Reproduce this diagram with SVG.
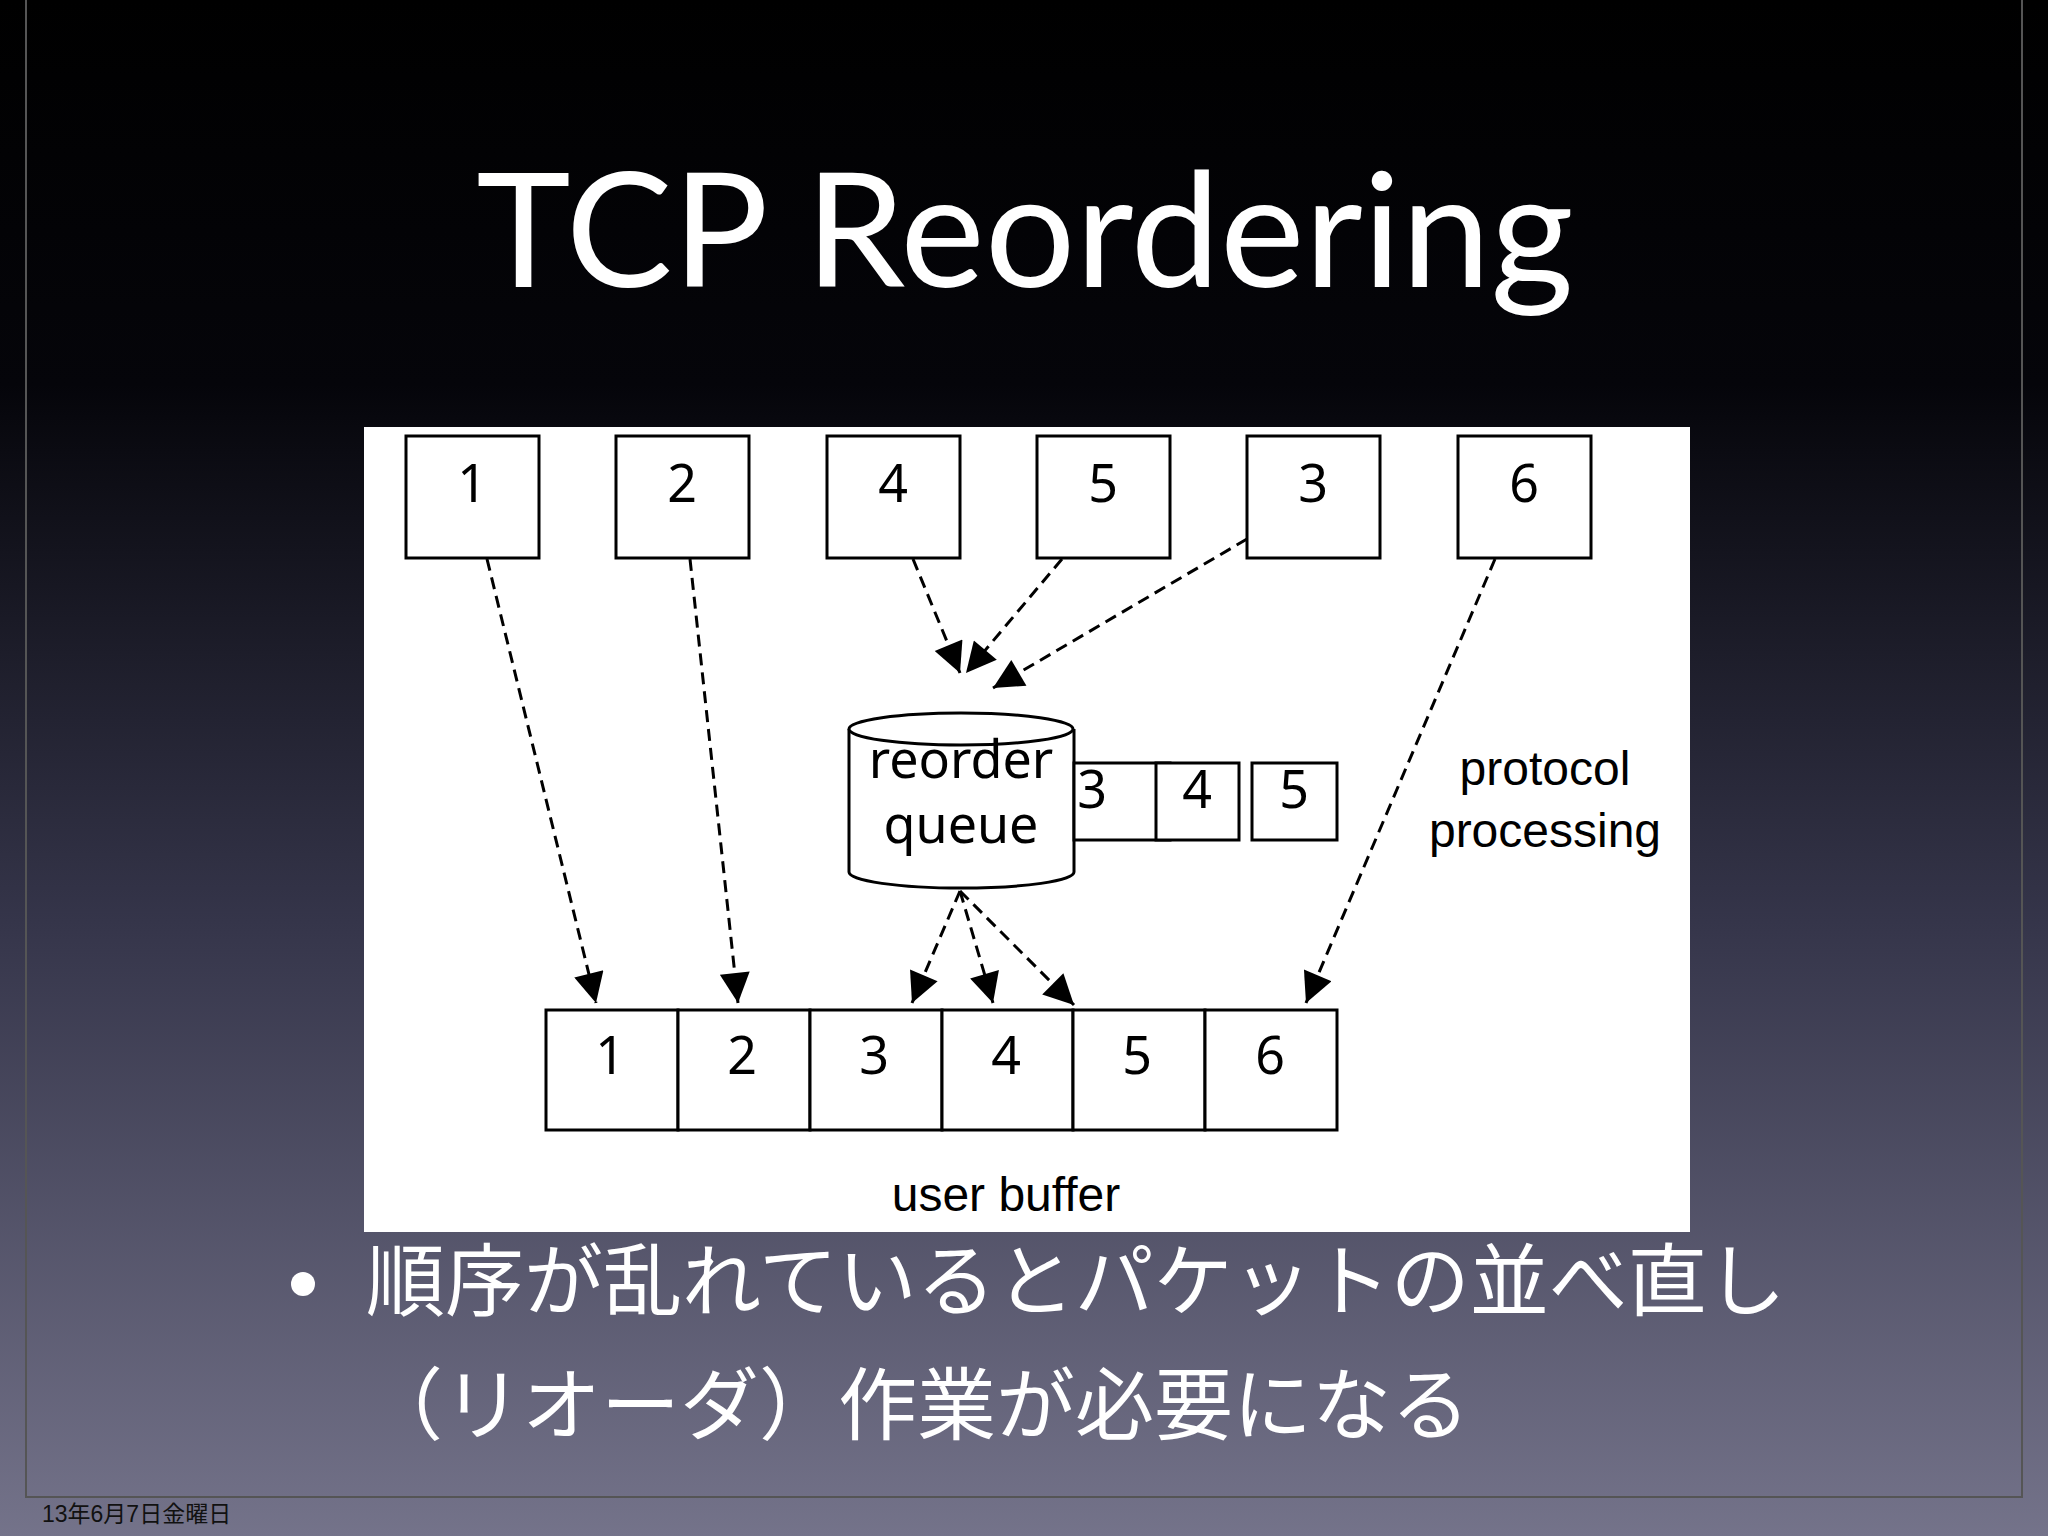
<svg xmlns="http://www.w3.org/2000/svg" width="2048" height="1536" viewBox="0 0 2048 1536">
<defs>
<linearGradient id="bg" x1="0" y1="0" x2="0" y2="1">
<stop offset="0" stop-color="#000"/><stop offset="0.25" stop-color="#05050a"/><stop offset="0.6" stop-color="#35354a"/><stop offset="1" stop-color="#74738a"/>
</linearGradient>
<marker id="a" viewBox="0 0 10 10" refX="10" refY="5" markerWidth="40" markerHeight="30" orient="auto" markerUnits="userSpaceOnUse"><path d="M0,0 L10,5 L0,10 z" fill="#000"/></marker>
</defs>
<style>
.b{fill:#fff;stroke:#000;stroke-width:3}
.n{font-family:"Noto Sans","Liberation Sans",sans-serif;font-size:52px;text-anchor:middle;fill:#000}
.l{font-family:"Liberation Sans",Arial,sans-serif;font-size:48px;text-anchor:middle;fill:#000}
.c{stroke:#000;stroke-width:3;stroke-dasharray:12,7;fill:none;marker-end:url(#a)}
.j{font-family:"Noto Sans CJK JP",sans-serif;font-size:79px;fill:#fff}
</style>
<rect width="2048" height="1536" fill="url(#bg)"/>
<rect x="26" y="-2" width="1996" height="1499" fill="none" stroke="#555" stroke-width="2"/>
<text x="1025" y="287" font-family="Lato,'Open Sans',sans-serif" font-size="160" fill="#fff" text-anchor="middle">TCP Reordering</text>
<rect x="364" y="427" width="1326" height="805" fill="#fff"/>
<g id="top1"><rect class="b" x="406" y="436" width="133" height="122"/><text class="n" x="472" y="502">1</text></g>
<g id="top2"><rect class="b" x="616" y="436" width="133" height="122"/><text class="n" x="682" y="502">2</text></g>
<g id="top4"><rect class="b" x="827" y="436" width="133" height="122"/><text class="n" x="893" y="502">4</text></g>
<g id="top5"><rect class="b" x="1037" y="436" width="133" height="122"/><text class="n" x="1103" y="502">5</text></g>
<g id="top3"><rect class="b" x="1247" y="436" width="133" height="122"/><text class="n" x="1313" y="502">3</text></g>
<g id="top6"><rect class="b" x="1458" y="436" width="133" height="122"/><text class="n" x="1524" y="502">6</text></g>
<g id="queue">
<path class="b" d="M849,729 L849,872 A112,16 0 0 0 1074,872 L1074,729"/>
<ellipse class="b" cx="961" cy="729" rx="112" ry="16"/>
<text class="n" x="961" y="778" font-size="40">reorder</text>
<text class="n" x="961" y="843" font-size="40">queue</text>
</g>
<g id="q3"><rect class="b" x="1074" y="763" width="96" height="77"/><text class="n" x="1092" y="808" font-size="44">3</text></g>
<g id="q4"><rect class="b" x="1156" y="763" width="83" height="77"/><text class="n" x="1197" y="808" font-size="44">4</text></g>
<g id="q5"><rect class="b" x="1252" y="763" width="85" height="77"/><text class="n" x="1294" y="808" font-size="44">5</text></g>
<g id="buf">
<rect class="b" x="546" y="1010" width="132" height="120"/><text class="n" x="610" y="1074">1</text>
<rect class="b" x="678" y="1010" width="132" height="120"/><text class="n" x="742" y="1074">2</text>
<rect class="b" x="810" y="1010" width="132" height="120"/><text class="n" x="874" y="1074">3</text>
<rect class="b" x="942" y="1010" width="131" height="120"/><text class="n" x="1006" y="1074">4</text>
<rect class="b" x="1073" y="1010" width="132" height="120"/><text class="n" x="1137" y="1074">5</text>
<rect class="b" x="1205" y="1010" width="132" height="120"/><text class="n" x="1270" y="1074">6</text>
</g>
<text class="l" x="1545" y="785">protocol</text>
<text class="l" x="1545" y="847">processing</text>
<text class="l" x="1006" y="1211">user buffer</text>
<g id="connectors">
<path class="c" d="M487,559 L596,1003"/>
<path class="c" d="M690,559 L738,1003"/>
<path class="c" d="M913,559 L960,673"/>
<path class="c" d="M1062,559 L966,673"/>
<path class="c" d="M1247,539 L993,688"/>
<path class="c" d="M1495,559 L1306,1003"/>
<path class="c" d="M960,891 L912,1003"/>
<path class="c" d="M960,891 L993,1003"/>
<path class="c" d="M960,891 L1074,1005"/>
</g>
<circle cx="303" cy="1284" r="12" fill="#fff"/>
<text class="j" x="366" y="1310">順序が乱れているとパケットの並べ直し</text>
<text class="j" x="364" y="1434">（リオーダ）作業が必要になる</text>
<text x="42" y="1522" font-family="'Liberation Sans','Noto Sans CJK JP',sans-serif" font-size="23" fill="#111">13年6月7日金曜日</text>
</svg>
